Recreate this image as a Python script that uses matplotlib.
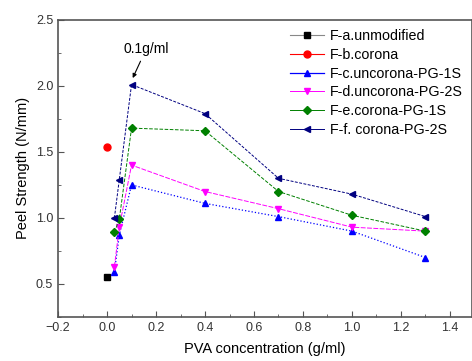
import numpy as np
import matplotlib
matplotlib.use('Agg')
import matplotlib.pyplot as plt
from matplotlib.ticker import MultipleLocator

plt.rcParams['font.family'] = ['Liberation Sans', 'DejaVu Sans']
plt.rcParams['font.size'] = 9

# data
xa = [0.0]
ya = [0.55]
xb = [0.0]
yb = [1.54]
x_conc = [0.03, 0.05, 0.1, 0.4, 0.7, 1.0, 1.3]
yc = [0.59, 0.87, 1.25, 1.11, 1.01, 0.90, 0.70]
yd = [0.63, 0.93, 1.40, 1.20, 1.07, 0.93, 0.90]
ye = [0.89, 0.99, 1.68, 1.66, 1.20, 1.02, 0.90]
yf = [1.00, 1.29, 2.01, 1.79, 1.30, 1.18, 1.01]

labels = ['F-a.unmodified', 'F-b.corona', 'F-c.uncorona-PG-1S',
          'F-d.uncorona-PG-2S', 'F-e.corona-PG-1S', 'F-f. corona-PG-2S']

fig = plt.figure(figsize=(4.72, 3.61), dpi=100)
ax = fig.add_axes([0.123, 0.122, 0.877, 0.823])

ax.plot(xa, ya, color='black', marker='s', markersize=5, linestyle='-', linewidth=0.8, label=labels[0])
ax.plot(xb, yb, color='red', marker='o', markersize=5, linestyle='-', linewidth=0.8, label=labels[1])
ax.plot(x_conc, yc, color='blue', marker='^', markersize=5, linestyle=':', linewidth=0.9, label=labels[2])
ax.plot(x_conc, yd, color='magenta', marker='v', markersize=5, linestyle=(0, (5, 1.5)), linewidth=0.7, label=labels[3])
ax.plot(x_conc, ye, color='#008000', marker='D', markersize=4, linestyle='--', linewidth=0.7, label=labels[4])
ax.plot(x_conc, yf, color='#000080', marker='<', markersize=5, linestyle=(0, (3, 1.5)), linewidth=0.7, label=labels[5])

ax.annotate('0.1g/ml', xy=(0.1, 2.04), xytext=(0.16, 2.28), ha='center', va='center', fontsize=10,
            arrowprops=dict(arrowstyle='-|>', color='black', lw=0.8, mutation_scale=6))

ax.set_xlim(-0.2, 1.49)
ax.set_ylim(0.25, 2.5)
ax.xaxis.set_major_locator(MultipleLocator(0.2))
ax.xaxis.set_minor_locator(MultipleLocator(0.1))
ax.yaxis.set_major_locator(MultipleLocator(0.5))
ax.yaxis.set_minor_locator(MultipleLocator(0.25))
ax.tick_params(which='both', direction='in', colors='#555555', labelcolor='#333333')
ax.tick_params(which='major', length=4)
ax.tick_params(which='minor', length=2)
for s in ax.spines.values():
    s.set_color('#555555')
    s.set_linewidth(1.2)

ax.set_xlabel('PVA concentration (g/ml)', fontsize=10.5, labelpad=6)
ax.set_ylabel('Peel Strength (N/mm)', fontsize=10.5)

leg = ax.legend(loc='upper right', frameon=False, fontsize=10.3, handlelength=2.4,
                labelspacing=0.33, borderaxespad=0.25, handletextpad=0.4)
for ln in leg.get_lines():
    ln.set_linestyle('-')
leg.get_lines()[0].set_color('#888888')
leg.get_lines()[0].set_markerfacecolor('black')
leg.get_lines()[0].set_markeredgecolor('black')

fig.savefig('out.png', dpi=100)
